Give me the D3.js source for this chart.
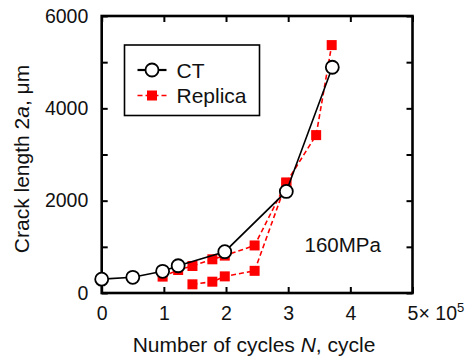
<!DOCTYPE html>
<html>
<head>
<meta charset="utf-8">
<script src="https://cdn.jsdelivr.net/npm/d3@7"></script>
<style>
  body { margin: 0; background: #fff; }
  svg text { font-family: "Liberation Sans", Arial, sans-serif; fill: #111; }
</style>
</head>
<body>
<svg id="chart" width="473" height="358"></svg>
<script>
// cycles in units of 1e5, crack length in um
const ctCycles = [0, 0.5, 0.98, 1.23, 1.98, 2.97, 3.71];
const ctLength = [300, 340, 470, 590, 895, 2200, 4890];

// replica measurements, two crack branches that join at ~3e5
const repUpperCycles = [0.98, 1.23, 1.46, 1.78, 1.98, 2.46, 2.97, 3.45, 3.70];
const repUpperLength = [355, 498, 585, 730, 810, 1030, 2390, 3420, 5370];
const repLowerCycles = [1.46, 1.78, 1.98, 2.46, 2.97];
const repLowerLength = [188, 245, 360, 480, 2390];

const xTicks = [0, 1, 2, 3, 4, 5];
const yTicks = [0, 1000, 2000, 3000, 4000, 5000, 6000];
const yLabels = [0, 2000, 4000, 6000];

const svg = d3.select('#chart');
const plotLeft = 101.7, plotRight = 412.5, plotTop = 16, plotBottom = 293;

const x = d3.scaleLinear().domain([0, 5]).range([plotLeft, plotRight]);
const y = d3.scaleLinear().domain([0, 6000]).range([plotBottom, plotTop]);

const zip = (xs, ys) => xs.map((v, i) => ({ n: v, a: ys[i] }));
const ct = zip(ctCycles, ctLength);
const repUpper = zip(repUpperCycles, repUpperLength);
const repLower = zip(repLowerCycles, repLowerLength);

const line = d3.line().x(d => x(d.n)).y(d => y(d.a));

// axes (ticks pointing inward)
const xAxis = d3.axisBottom(x).tickValues(xTicks).tickSize(-6).tickPadding(13.5)
  .tickFormat(d => d);
const xAxisTop = d3.axisTop(x).tickValues(xTicks).tickSize(-6).tickFormat('');
const yAxis = d3.axisLeft(y).tickValues(yTicks).tickSize(-6).tickPadding(13.4)
  .tickFormat(d => yLabels.includes(d) ? d : '');
const yAxisRight = d3.axisRight(y).tickValues(yTicks).tickSize(-6).tickFormat('');

function styleAxis(g) {
  g.select('.domain').remove();
  g.selectAll('.tick line').attr('stroke', '#000').attr('stroke-width', 2);
  g.selectAll('.tick text').style('font-size', '19.5px').attr('fill', '#111');
}

svg.append('g').attr('transform', 'translate(0,' + plotBottom + ')').call(xAxis).call(styleAxis);
svg.append('g').attr('transform', 'translate(0,' + plotTop + ')').call(xAxisTop).call(styleAxis);
svg.append('g').attr('transform', 'translate(' + plotLeft + ',0)').call(yAxis).call(styleAxis);
svg.append('g').attr('transform', 'translate(' + plotRight + ',0)').call(yAxisRight).call(styleAxis);

// frame
svg.append('rect')
  .attr('x', plotLeft).attr('y', plotTop)
  .attr('width', plotRight - plotLeft).attr('height', plotBottom - plotTop)
  .attr('fill', 'none').attr('stroke', '#000').attr('stroke-width', 2.6);

// x10^5 multiplier next to last tick
const mult = svg.append('text')
  .attr('x', x(5) + 6).attr('y', 320)
  .style('font-size', '19.5px');
mult.append('tspan').text('\u00d7 10');
mult.append('tspan').attr('dy', -8).style('font-size', '13px').text('5');

// replica (red dashed, squares)
[repUpper, repLower].forEach(series => {
  svg.append('path')
    .datum(series)
    .attr('d', line)
    .attr('fill', 'none')
    .attr('stroke', '#ff0000')
    .attr('stroke-width', 1.6)
    .attr('stroke-dasharray', '5,3');
});
const sq = 10;
svg.selectAll('.repPoint')
  .data(repUpper.concat(repLower))
  .enter()
  .append('rect')
  .attr('class', 'repPoint')
  .attr('x', d => x(d.n) - sq / 2)
  .attr('y', d => y(d.a) - sq / 2)
  .attr('width', sq).attr('height', sq)
  .attr('fill', '#ff0000');

// CT (black solid, open circles)
svg.append('path')
  .datum(ct)
  .attr('d', line)
  .attr('fill', 'none')
  .attr('stroke', '#000')
  .attr('stroke-width', 1.6);
svg.selectAll('.ctPoint')
  .data(ct)
  .enter()
  .append('circle')
  .attr('class', 'ctPoint')
  .attr('cx', d => x(d.n))
  .attr('cy', d => y(d.a))
  .attr('r', 6.5)
  .attr('fill', '#fff')
  .attr('stroke', '#000')
  .attr('stroke-width', 1.8);

// legend
const legend = svg.append('g');
legend.append('rect')
  .attr('x', 124.5).attr('y', 45).attr('width', 135).attr('height', 70.5)
  .attr('fill', '#fff').attr('stroke', '#000').attr('stroke-width', 1.6);
legend.append('line')
  .attr('x1', 137.5).attr('x2', 166.5).attr('y1', 70).attr('y2', 70)
  .attr('stroke', '#000').attr('stroke-width', 2.2);
legend.append('circle')
  .attr('cx', 152).attr('cy', 70).attr('r', 6.5)
  .attr('fill', '#fff').attr('stroke', '#000').attr('stroke-width', 1.8);
legend.append('line')
  .attr('x1', 137.5).attr('x2', 166.5).attr('y1', 95.5).attr('y2', 95.5)
  .attr('stroke', '#ff0000').attr('stroke-width', 1.6).attr('stroke-dasharray', '5,3');
legend.append('rect')
  .attr('x', 147).attr('y', 90.5).attr('width', sq).attr('height', sq)
  .attr('fill', '#ff0000');
legend.append('text').attr('x', 176.5).attr('y', 77.5)
  .style('font-size', '21px').text('CT');
legend.append('text').attr('x', 176.5).attr('y', 103)
  .style('font-size', '21px').text('Replica');

// stress annotation
svg.append('text').attr('x', 304.5).attr('y', 251.7)
  .style('font-size', '20.5px').text('160MPa');

// axis titles
const xt = svg.append('text')
  .attr('x', 254).attr('y', 351.5)
  .attr('text-anchor', 'middle')
  .style('font-size', '21px');
xt.append('tspan').text('Number of cycles ');
xt.append('tspan').style('font-style', 'italic').text('N');
xt.append('tspan').text(', cycle');

const yt = svg.append('text')
  .attr('transform', 'translate(28.5,159) rotate(-90)')
  .attr('text-anchor', 'middle')
  .style('font-size', '21px');
yt.append('tspan').text('Crack length 2');
yt.append('tspan').style('font-style', 'italic').text('a');
yt.append('tspan').text(', \u03bcm');
</script>
</body>
</html>
